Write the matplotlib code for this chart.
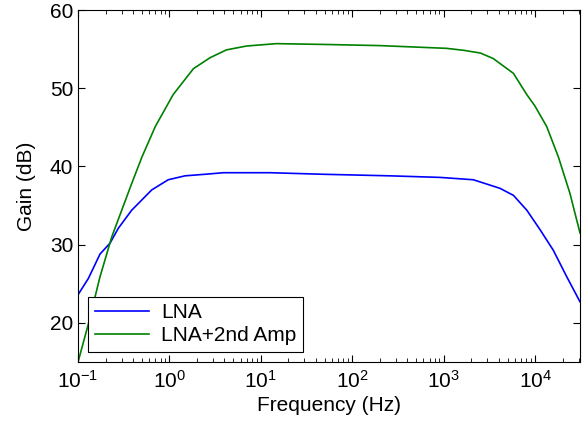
import matplotlib
matplotlib.use("Agg")
import matplotlib.pyplot as plt

# values
freq_lna = [0.1, 0.13, 0.174, 0.224, 0.276, 0.386, 0.64, 0.97, 1.48, 2.45, 3.9, 12.6,
            48, 260, 912, 2110, 4140, 5800, 8130, 11360, 15800, 22200, 31000]
gain_lna = [23.6, 25.7, 28.8, 30.2, 32.1, 34.4, 37.0, 38.3, 38.8, 39.0, 39.2, 39.2,
            39.0, 38.8, 38.6, 38.3, 37.2, 36.3, 34.4, 31.9, 29.3, 25.9, 22.7]

freq_amp = [0.1, 0.13, 0.174, 0.234, 0.386, 0.5, 0.7, 1.1, 1.83, 2.78, 4.2, 7.0,
            14.8, 48, 200, 1070, 1650, 2520, 3480, 5800, 8100, 10000, 13400, 18000,
            24000, 31000]
gain_amp = [15.0, 19.9, 25.9, 31.0, 37.8, 41.2, 45.1, 49.2, 52.5, 53.9, 54.9, 55.4,
            55.7, 55.6, 55.45, 55.1, 54.85, 54.5, 53.8, 51.9, 49.2, 47.7, 45.1, 41.2,
            36.6, 31.5]

plt.rcParams['font.family'] = ['Liberation Sans', 'DejaVu Sans']

fig = plt.figure(figsize=(5.88, 4.24), dpi=100)
ax = fig.add_axes([0.1327, 0.1462, 0.8537, 0.8302])

ax.semilogx(freq_lna, gain_lna, color=(0, 0, 1), lw=1.2, label='LNA')
ax.semilogx(freq_amp, gain_amp, color=(0, 0.5, 0), lw=1.2, label='LNA+2nd Amp')

ax.set_xlim(0.1, 31000)
ax.set_ylim(15, 60)
ax.set_yticks([20, 30, 40, 50, 60])
ax.set_xticks([0.1, 1, 10, 100, 1000, 10000])

ax.tick_params(which='both', direction='in', top=True, right=True, labelsize=15)
ax.tick_params(axis='x', which='major', pad=6)
ax.tick_params(which='major', length=5, width=0.8)
ax.tick_params(which='minor', length=3, width=0.6)
for s in ax.spines.values():
    s.set_linewidth(0.8)

ax.set_xlabel('Frequency (Hz)', fontsize=15, labelpad=3)
ax.set_ylabel('Gain (dB)', fontsize=15, labelpad=10)

leg = ax.legend(loc='lower left', fontsize=15, fancybox=False, framealpha=1,
                edgecolor='black', borderaxespad=0.5, handlelength=2.6,
                borderpad=0.3, labelspacing=0.2, handletextpad=0.6)
leg.get_frame().set_linewidth(0.8)

fig.savefig('out.png', dpi=100)
